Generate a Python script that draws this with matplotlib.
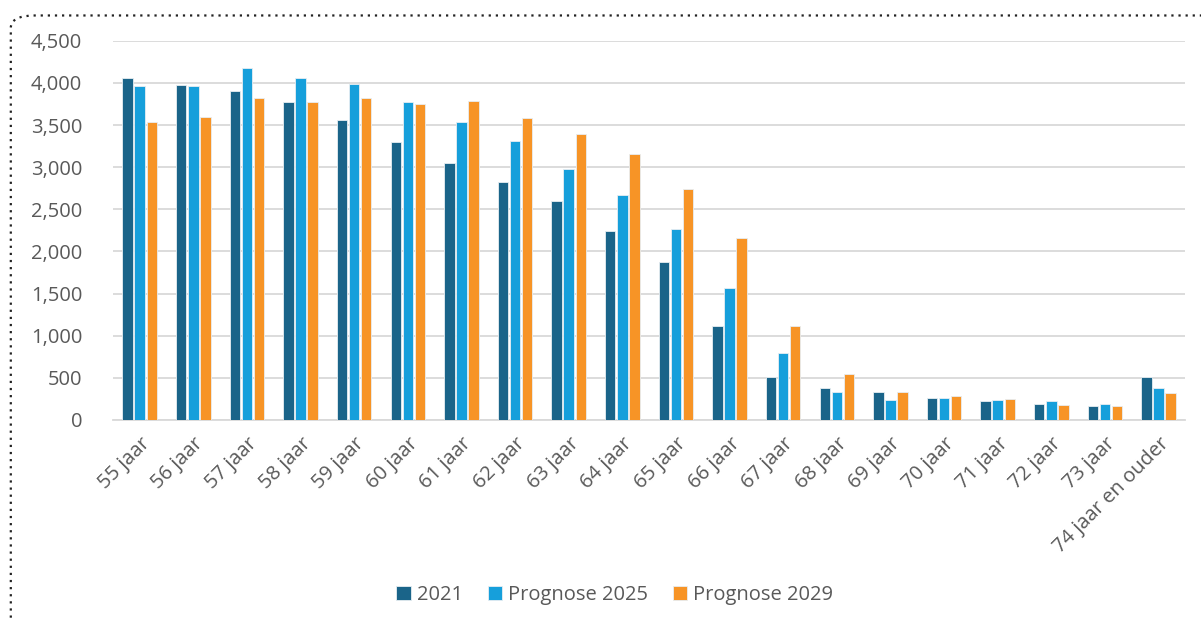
import numpy as np
import matplotlib.pyplot as plt
from matplotlib.patches import FancyBboxPatch
from matplotlib.ticker import FuncFormatter

# leeftijdscategorieën en aantallen per jaar
leeftijden = ['55 jaar', '56 jaar', '57 jaar', '58 jaar', '59 jaar', '60 jaar',
              '61 jaar', '62 jaar', '63 jaar', '64 jaar', '65 jaar', '66 jaar',
              '67 jaar', '68 jaar', '69 jaar', '70 jaar', '71 jaar', '72 jaar',
              '73 jaar', '74 jaar en ouder']
aantal_2021 = [4060, 3980, 3910, 3770, 3560, 3300, 3050, 2830, 2600, 2240,
               1880, 1110, 510, 385, 328, 262, 222, 190, 165, 515]
prognose_2025 = [3970, 3960, 4180, 4060, 3990, 3770, 3540, 3310, 2980, 2670,
                 2270, 1570, 795, 335, 236, 263, 243, 222, 195, 375]
prognose_2029 = [3540, 3600, 3820, 3780, 3820, 3750, 3790, 3580, 3400, 3160,
                 2740, 2160, 1120, 547, 328, 282, 255, 183, 164, 316]

reeksen = ['2021', 'Prognose 2025', 'Prognose 2029']
kleuren = ['#1a6489', '#169fdb', '#f79426']

plt.rcParams['font.family'] = ['Open Sans', 'DejaVu Sans']

fig = plt.figure(figsize=(12.01, 6.19), dpi=100)
ax = fig.add_axes([0.094, 0.3215, 0.893, 0.6125])

x = np.arange(len(leeftijden))
breedte = 0.195
stap = 0.225
for i, (naam, waarden, kleur) in enumerate(zip(reeksen, [aantal_2021, prognose_2025, prognose_2029], kleuren)):
    ax.bar(x + (i - 1) * stap, waarden, breedte, color=kleur, label=naam,
           edgecolor='#e8eef2', linewidth=0.6, zorder=3)

ax.set_xlim(-0.5, len(leeftijden) - 0.5)
ax.set_ylim(0, 4500)
ax.set_yticks(np.arange(0, 4501, 500))
ax.yaxis.set_major_formatter(FuncFormatter(lambda v, p: f'{int(v):,}'))
ax.grid(axis='y', color='#d9d9d9', linewidth=1.3, zorder=0)
ax.set_axisbelow(True)

for s in ['top', 'right', 'left']:
    ax.spines[s].set_visible(False)
ax.spines['bottom'].set_color('#d9d9d9')
ax.spines['bottom'].set_linewidth(1.3)

ax.set_xticks(x)
ax.set_xticklabels(leeftijden, rotation=45, ha='right', rotation_mode='anchor')
ax.tick_params(axis='both', length=0, colors='#595959', labelsize=14.5)
ax.tick_params(axis='x', pad=10)
ax.tick_params(axis='y', pad=22)

leg = fig.legend(loc='center', bbox_to_anchor=(0.512, 0.038), ncol=3, frameon=False,
                 fontsize=14.5, handlelength=0.7, handleheight=0.7,
                 handletextpad=0.3, columnspacing=1.25)
for t in leg.get_texts():
    t.set_color('#595959')

# gestippelde kader met afgeronde hoek
kader = FancyBboxPatch((0.009, -0.2), 1.2, 1.175, transform=fig.transFigure,
                       boxstyle='round,pad=0,rounding_size=0.02',
                       fill=False, edgecolor='#222222', linestyle=(0, (1, 2.2)),
                       linewidth=1.6, clip_on=False)
fig.patches.append(kader)

fig.savefig('out.png', dpi=100)
